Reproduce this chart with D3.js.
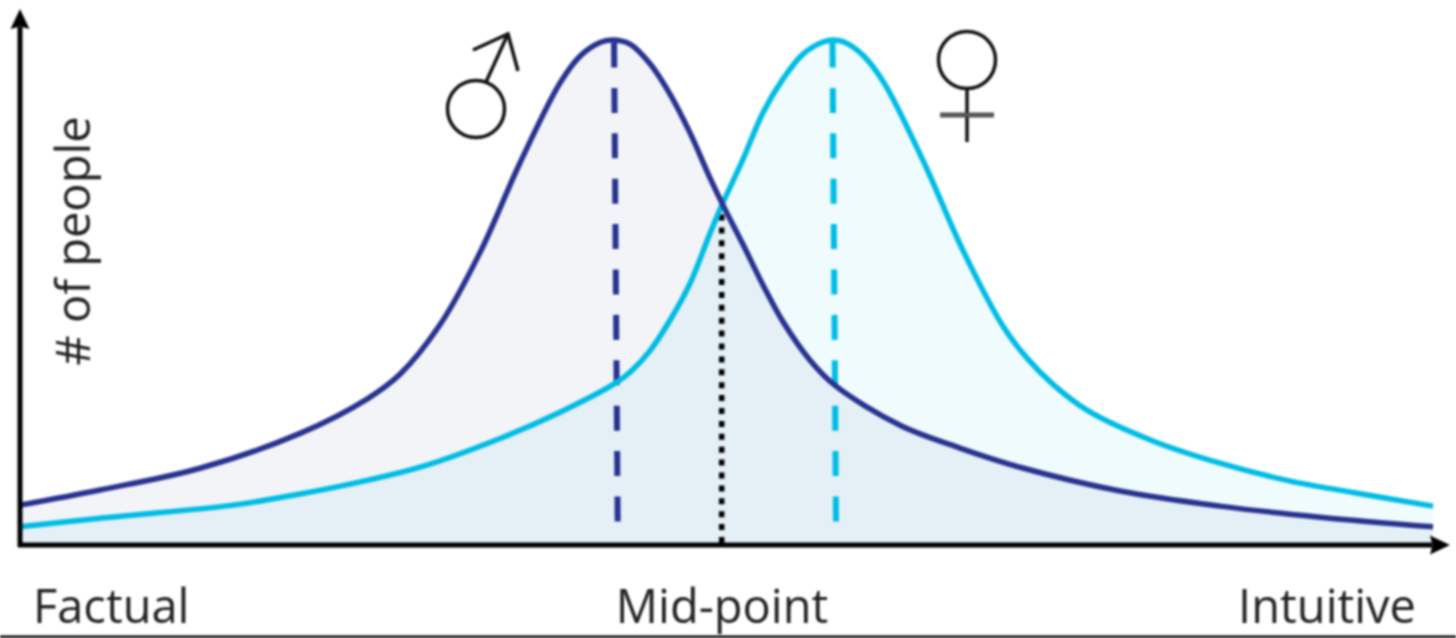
<!DOCTYPE html>
<html>
<head>
<meta charset="utf-8">
<script src="https://cdn.jsdelivr.net/npm/d3@7"></script>
<style>
  html, body { margin: 0; padding: 0; background: #fff; overflow: hidden; }
  svg { display: block; filter: blur(1px); }
  text { font-family: "Open Sans", sans-serif; fill: #222; }
</style>
</head>
<body>
<div id="chart"></div>
<script>
// curves (x 0-100 along the axis, y = % of the peak height)
const malePositions = [0, 5.66, 12.74, 19.82, 24.56, 26.89, 29.72, 32.55, 35.39, 38.22, 39.63, 41.05, 41.9, 43.17, 44.59, 46, 47.42, 48.83, 49.75, 51.17, 52.58, 54, 55.91, 57.68, 62.28, 66.52, 70.77, 77.85, 84.93, 92, 100];
const maleValues = [7.9, 10.9, 15.2, 22.1, 28.9, 33.8, 43.6, 57.9, 75.7, 91.5, 96.8, 99.5, 100, 99.2, 95.3, 89.3, 81.6, 72.7, 67.3, 59.5, 51.5, 44.2, 36.6, 31.6, 23.7, 19.2, 15.4, 10.7, 7.7, 5.5, 3.6];
const femalePositions = [0, 5.66, 15.07, 19.82, 24.56, 28.31, 33.97, 38.22, 42.11, 43.17, 44.59, 46, 47.42, 48.83, 49.75, 51.17, 52.58, 54, 55.41, 56.83, 57.54, 58.32, 59.73, 61.15, 63.98, 66.81, 69.64, 71.27, 73.11, 75.51, 80.18, 84.93, 89.67, 94.34, 100];
const femaleValues = [3.6, 5.3, 7.9, 10.1, 12.8, 15.4, 21.1, 26.3, 32, 34.2, 38.5, 44.5, 51.8, 61.7, 67.8, 76.4, 85.6, 92.3, 97.2, 99.6, 100, 99.6, 96.8, 91.5, 75.7, 57.9, 43, 37, 31.8, 26.7, 20.6, 16.2, 12.8, 10.4, 7.7];
const xLabels = ["Factual", "Mid-point", "Intuitive"];
const yLabel = "# of people";
const midPoint = 49.66;
const midHeight = 67;
const meanLow = 4.15;

const MALE_COLOR = "#28338f";
const MALE_FILL = "#2b4a90";
const FEMALE_COLOR = "#00bce4";
const width = 1456, height = 638;

const x = d3.scaleLinear().domain([0, 100]).range([20, 1433]);
const y = d3.scaleLinear().domain([0, 100]).range([545, 40]);

const svg = d3.select("#chart").append("svg")
    .attr("width", width)
    .attr("height", height);

svg.append("defs").append("marker")
    .attr("id", "arrow")
    .attr("viewBox", "0 0 20 20")
    .attr("refX", 2).attr("refY", 10)
    .attr("markerWidth", 20).attr("markerHeight", 20)
    .attr("markerUnits", "userSpaceOnUse")
    .attr("orient", "auto")
  .append("path")
    .attr("d", "M0,0.5 L20,10 L0,19.5 L2.5,10 Z")
    .attr("fill", "#000");

const maleRows = malePositions.map((p, i) => ({ p, v: maleValues[i] }));
const femaleRows = femalePositions.map((p, i) => ({ p, v: femaleValues[i] }));

const area = d3.area()
    .x(d => x(d.p))
    .y0(y(0))
    .y1(d => y(d.v))
    .curve(d3.curveCatmullRom.alpha(0.5));
const line = d3.line()
    .x(d => x(d.p))
    .y(d => y(d.v))
    .curve(d3.curveCatmullRom.alpha(0.5));

// fills first, they overlap to the darker blue in the middle
svg.append("path").attr("d", area(maleRows)).attr("fill", MALE_FILL).attr("fill-opacity", 0.06);
svg.append("path").attr("d", area(femaleRows)).attr("fill", FEMALE_COLOR).attr("fill-opacity", 0.06);

// mean lines
function meanLine(top, bottom, color) {
  svg.append("line")
      .attr("x1", x(top)).attr("y1", y(100))
      .attr("x2", x(bottom)).attr("y2", y(meanLow))
      .attr("stroke", color).attr("stroke-width", 6)
      .attr("stroke-dasharray", "25 20.4")
      .attr("stroke-dashoffset", -2.5);
}
meanLine(42.04, 42.3, MALE_COLOR);
meanLine(57.5, 57.75, FEMALE_COLOR);

// mid-point
svg.append("line")
    .attr("x1", x(midPoint)).attr("y1", y(0))
    .attr("x2", x(midPoint)).attr("y2", y(midHeight))
    .attr("stroke", "#000").attr("stroke-width", 5.5)
    .attr("stroke-dasharray", "6 6.9")
    .attr("stroke-dashoffset", -2);

svg.append("path").attr("d", line(femaleRows)).attr("fill", "none").attr("stroke", FEMALE_COLOR).attr("stroke-width", 5.5);
svg.append("path").attr("d", line(maleRows)).attr("fill", "none").attr("stroke", MALE_COLOR).attr("stroke-width", 5.5);

// axes
svg.append("line")
    .attr("x1", 20).attr("y1", 547).attr("x2", 20).attr("y2", 27)
    .attr("stroke", "#000").attr("stroke-width", 5)
    .attr("marker-end", "url(#arrow)");
svg.append("line")
    .attr("x1", 18).attr("y1", 545).attr("x2", 1432).attr("y2", 545)
    .attr("stroke", "#000").attr("stroke-width", 5)
    .attr("marker-end", "url(#arrow)");

// labels
const labelX = [33, 722, 1416];
const labelAnchor = ["start", "middle", "end"];
svg.selectAll("text.xlabel")
  .data(xLabels)
  .join("text")
    .attr("class", "xlabel")
    .attr("x", (d, i) => labelX[i])
    .attr("y", 623)
    .attr("text-anchor", (d, i) => labelAnchor[i])
    .attr("font-size", 47)
    .text(d => d);

svg.append("text")
    .attr("transform", "translate(90,241) rotate(-90)")
    .attr("text-anchor", "middle")
    .attr("font-size", 47)
    .text(yLabel);

// gender symbols
const male = svg.append("g").attr("fill", "none").attr("stroke", "#111").attr("stroke-width", 3.5);
male.append("circle").attr("cx", 476).attr("cy", 109).attr("r", 28.5);
male.append("path").attr("d", "M486,82 L507,36");
male.append("path").attr("d", "M473,50 L508,34 L518,71");

const female = svg.append("g").attr("fill", "none").attr("stroke", "#111").attr("stroke-width", 3.5);
female.append("circle").attr("cx", 967).attr("cy", 60).attr("r", 28.5);
female.append("path").attr("d", "M967,89 L967,142");
female.append("path").attr("d", "M940,115 L994,115").attr("stroke", "#555").attr("stroke-width", 5);

// dark edge at the bottom of the image
svg.append("line")
    .attr("x1", -5).attr("y1", 637).attr("x2", width + 5).attr("y2", 637)
    .attr("stroke", "#000").attr("stroke-width", 3);
</script>
</body>
</html>
